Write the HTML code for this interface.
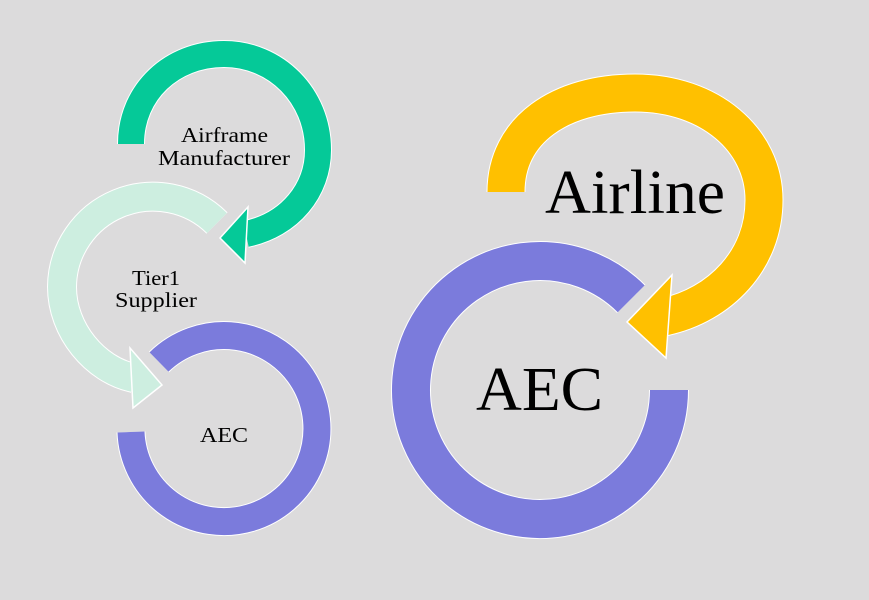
<!DOCTYPE html>
<html><head><meta charset="utf-8"><style>
html,body{margin:0;padding:0;background:#dcdbdc;}
svg{display:block;}
text{font-family:"Liberation Serif",serif;fill:#000;}
</style></head><body>
<svg width="869" height="600" viewBox="0 0 869 600">
<rect width="869" height="600" fill="#dcdbdc"/>
<!-- small purple ring -->
<path d="M131,432 A93,93 0 1 0 159,362" fill="none" stroke="#fff" stroke-width="29"/>
<path d="M131,432 A93,93 0 1 0 159,362" fill="none" stroke="#7b7bdc" stroke-width="27"/>
<!-- light green -->
<path d="M217,223 A91,91 0 0 0 62,287 C62,330 95,370 134,378" fill="none" stroke="#fff" stroke-width="30"/>
<path d="M217,223 A91,91 0 0 0 62,287 C62,330 95,370 134,378" fill="none" stroke="#cdeee0" stroke-width="28"/>
<polygon points="130,348 162,385 133,408" fill="#cdeee0" stroke="#fff" stroke-width="1.5"/>
<!-- green -->
<path d="M131,144 C131,92 172,54 224,54 C276,54 318,96 318,150 C318,190 290,225 246,234" fill="none" stroke="#fff" stroke-width="28"/>
<path d="M131,144 C131,92 172,54 224,54 C276,54 318,96 318,150 C318,190 290,225 246,234" fill="none" stroke="#05c998" stroke-width="26"/>
<polygon points="248,207 220,238 245,263" fill="#05c998" stroke="#fff" stroke-width="1.5"/>
<!-- big purple ring -->
<path d="M669,390 A129,129 0 1 1 631.2,298.8" fill="none" stroke="#fff" stroke-width="40"/>
<path d="M669,390 A129,129 0 1 1 631.2,298.8" fill="none" stroke="#7b7bdc" stroke-width="38"/>
<!-- yellow -->
<path d="M506,192 C506,130 560,93 635,93 C710,93 764,140 764,200 C764,260 720,305 664,317" fill="none" stroke="#fff" stroke-width="39"/>
<path d="M506,192 C506,130 560,93 635,93 C710,93 764,140 764,200 C764,260 720,305 664,317" fill="none" stroke="#ffc000" stroke-width="37"/>
<polygon points="672,275 627,322 666,358" fill="#ffc000" stroke="#fff" stroke-width="1.5"/>
<!-- labels -->
<text x="181" y="142" font-size="21" textLength="87" lengthAdjust="spacingAndGlyphs">Airframe</text>
<text x="158" y="165" font-size="21" textLength="132" lengthAdjust="spacingAndGlyphs">Manufacturer</text>
<text x="132" y="285" font-size="21" textLength="48" lengthAdjust="spacingAndGlyphs">Tier1</text>
<text x="115" y="307" font-size="21" textLength="82" lengthAdjust="spacingAndGlyphs">Supplier</text>
<text x="200" y="442" font-size="21" textLength="48" lengthAdjust="spacingAndGlyphs">AEC</text>
<text x="545" y="213" font-size="62" textLength="180" lengthAdjust="spacingAndGlyphs">Airline</text>
<text x="476" y="410" font-size="62" textLength="127" lengthAdjust="spacingAndGlyphs">AEC</text>
</svg>
</body></html>
